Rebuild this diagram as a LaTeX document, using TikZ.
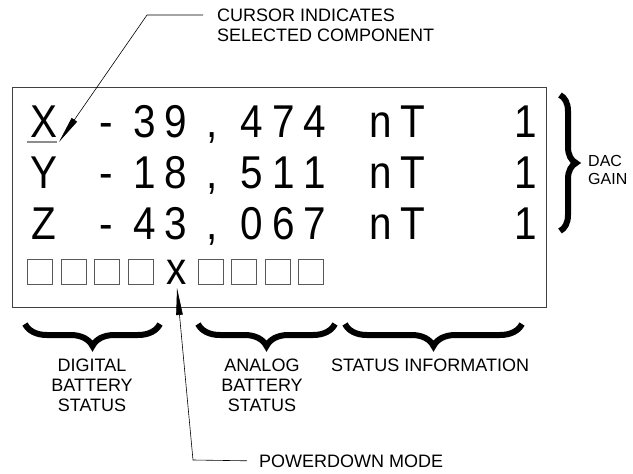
\documentclass[tikz,border=0pt]{standalone}
\usepackage{fontspec}
\setmainfont{Liberation Sans}
\newfontfamily\lcdfont[FakeStretch=0.88]{Liberation Sans}
\usetikzlibrary{arrows.meta,decorations.pathreplacing}

\begin{document}
\begin{tikzpicture}[x=1pt,y=-1pt,
  lcd/.style={font=\lcdfont\fontsize{46}{46}\selectfont,inner sep=0pt,anchor=base},
  lbl/.style={font=\fontsize{18}{20}\selectfont,inner sep=0pt,align=center},
  cell/.style={draw=black!65,line width=0.8pt,minimum size=25pt,inner sep=0pt},
  brc/.style={decorate,decoration={brace,amplitude=22pt},line width=6pt},
  lead/.style={line width=0.6pt,-{Triangle[length=27pt,width=6.5pt]}}]
\useasboundingbox (0,0) rectangle (633,474);
% display window
\draw[black!75,line width=1pt] (12,87) rectangle (546,307);
\foreach \cx/\a/\b/\c in {44/X/Y/Z,106/-/-/-,145/3/1/4,176/9/8/3,212/{,}/{,}/{,},252/4/5/0,284/7/1/6,315/4/1/7,381/n/n/n,413/T/T/T,526/1/1/1}{
  \node[lcd] (a\cx) at (\cx,137) {\a};
  \node[lcd] (b\cx) at (\cx,188) {\b};
  \node[lcd] (c\cx) at (\cx,239) {\c};
}
\draw[black!45,line width=1.5pt] (27,142) -- (57,142);
% status row
\foreach \cx [count=\i] in {40,74,107,141,211,244,278,311}
  \node[cell] (s\i) at (\cx,271.5) {};
\node[lcd] (pd) at (177,284) {x};
% cursor callout
\node[lbl,align=left,anchor=west] (cur) at (217,25.5) {CURSOR INDICATES\\SELECTED COMPONENT};
\coordinate (cstart) at ([xshift=-14pt]cur.west);
\coordinate (cbend) at (147,15);
\coordinate (ctip) at (59,142);
\draw[lead] (cstart |- cbend) -- (cbend) -- (ctip);
% powerdown callout
\node[lbl,anchor=base west] (pdm) at (259,467) {POWERDOWN MODE};
\coordinate (pbend) at (193,460);
\coordinate (ptip) at (177,288);
\draw[lead] ([xshift=-12pt]pdm.west) -- (pbend) -- (ptip);
% braces
\draw[brc,decoration={brace,amplitude=16pt}] (560,95) -- (560,231);
\node[font=\fontsize{16}{18}\selectfont,align=left,anchor=west,inner sep=0pt] (dac) at (588,170) {DAC\\GAIN};
\draw[brc] (160,324) -- (25,324);
\draw[brc] (335,324) -- (198,324);
\draw[brc] (522,324) -- (345,324);
\node[lbl] (dig) at (92,385) {DIGITAL\\BATTERY\\STATUS};
\node[lbl] (ana) at (262,385) {ANALOG\\BATTERY\\STATUS};
\node[lbl,anchor=base] (sti) at (430,371) {STATUS INFORMATION};
\end{tikzpicture}
\end{document}
